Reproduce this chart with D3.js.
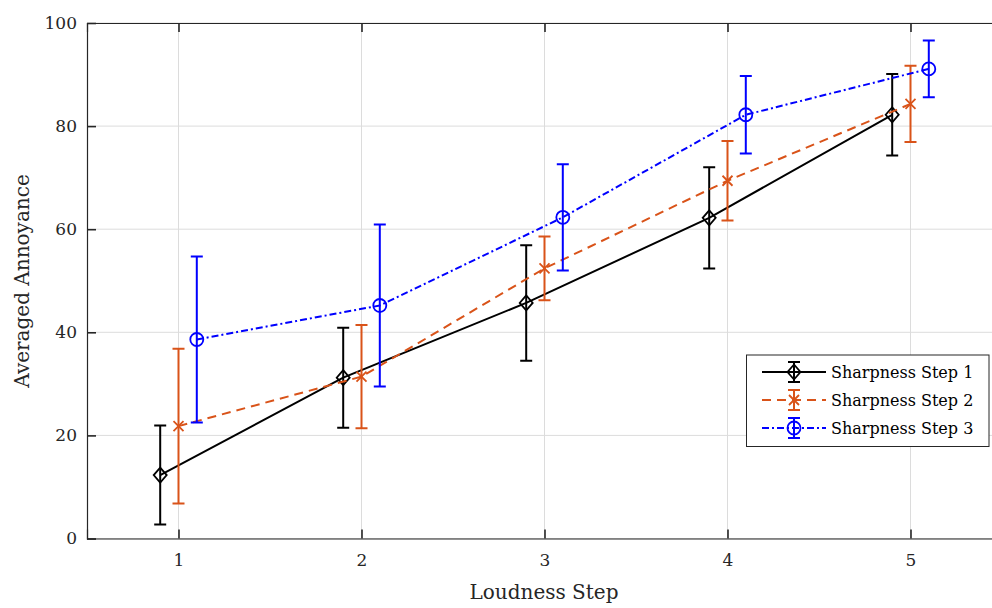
<!DOCTYPE html>
<html><head><meta charset="utf-8">
<script src="https://cdn.jsdelivr.net/npm/d3@7"></script>
<style>body{margin:0;background:#fff}svg{display:block}</style>
</head><body>
<svg id="c" width="992" height="608"></svg>
<script>
const steps = [1, 2, 3, 4, 5];
const seriesNames = ["Sharpness Step 1", "Sharpness Step 2", "Sharpness Step 3"];
const offsets = [-0.1, 0, 0.1];
const means1 = [12.3, 31.2, 45.7, 62.2, 82.2];
const errs1  = [9.6, 9.7, 11.2, 9.8, 7.9];
const means2 = [21.8, 31.4, 52.4, 69.4, 84.3];
const errs2  = [15.0, 10.0, 6.2, 7.7, 7.4];
const means3 = [38.6, 45.2, 62.3, 82.2, 91.1];
const errs3  = [16.1, 15.7, 10.3, 7.5, 5.5];
const yTicks = [0, 20, 40, 60, 80, 100];
const colors = ["#000000", "#D95319", "#0000FF"];
const dashes = [null, "9,6", "7,3,2,3"];
const markers = ["diamond", "x", "circle"];
const allMeans = [means1, means2, means3];
const allErrs = [errs1, errs2, errs3];

const svg = d3.select("#c");
const m = {l: 87, t: 23, r: 1002, b: 538.5};
const x = d3.scaleLinear().domain([0.5, 5.5]).range([m.l, m.r]);
const y = d3.scaleLinear().domain([0, 100]).range([m.b, m.t]);
const font = "'DejaVu Serif', serif";
const axisCol = "#262626";

// grid
const g = svg.append("g");
g.selectAll(".gx").data(steps).join("line")
  .attr("x1", d => x(d)).attr("x2", d => x(d)).attr("y1", m.t).attr("y2", m.b)
  .attr("stroke", "#dcdcdc").attr("stroke-width", 1);
g.selectAll(".gy").data(yTicks).join("line")
  .attr("x1", m.l).attr("x2", m.r).attr("y1", d => y(d)).attr("y2", d => y(d))
  .attr("stroke", "#dcdcdc").attr("stroke-width", 1);

// axes
const xAxis = d3.axisBottom(x).tickValues(steps).tickSize(-9).tickPadding(15).tickFormat(d3.format("d"));
const xTop = d3.axisTop(x).tickValues(steps).tickSize(-9).tickFormat("");
const yAxis = d3.axisLeft(y).tickValues(yTicks).tickSize(-9).tickPadding(10);
function style(sel){
  sel.select(".domain").attr("stroke", axisCol).attr("stroke-width", 1.2);
  sel.selectAll(".tick line").attr("stroke", axisCol).attr("stroke-width", 1.6);
  sel.selectAll("text").attr("fill", axisCol).style("font-family", font).style("font-size", "17px");
}
svg.append("g").attr("transform", `translate(0,${m.b})`).call(xAxis).call(style);
svg.append("g").attr("transform", `translate(0,${m.t})`).call(xTop).call(style);
svg.append("g").attr("transform", `translate(${m.l},0)`).call(yAxis).call(style);

svg.append("text").attr("x", 544).attr("y", 599).attr("text-anchor", "middle")
  .style("font-family", font).style("font-size", "20px").attr("fill", axisCol).text("Loudness Step");
svg.append("text").attr("transform", "translate(29,281) rotate(-90)").attr("text-anchor", "middle")
  .style("font-family", font).style("font-size", "20px").attr("fill", axisCol).text("Averaged Annoyance");

function drawMarker(sel, type, cx, cy, col){
  if (type === "diamond") {
    sel.append("path").attr("d", `M${cx},${cy-7.5}L${cx+6.5},${cy}L${cx},${cy+7.5}L${cx-6.5},${cy}Z`)
      .attr("fill", "none").attr("stroke", col).attr("stroke-width", 1.8);
  } else if (type === "circle") {
    sel.append("circle").attr("cx", cx).attr("cy", cy).attr("r", 6.5)
      .attr("fill", "none").attr("stroke", col).attr("stroke-width", 1.8);
  } else {
    sel.append("path").attr("d", `M${cx-5},${cy-5}L${cx+5},${cy+5}M${cx-5},${cy+5}L${cx+5},${cy-5}`)
      .attr("fill", "none").attr("stroke", col).attr("stroke-width", 1.8);
  }
}

const line = d3.line().x(d => x(d[0])).y(d => y(d[1]));
allMeans.forEach((means, i) => {
  const col = colors[i];
  const pts = steps.map((s, j) => [s + offsets[i], means[j], allErrs[i][j]]);
  const sg = svg.append("g");
  pts.forEach(p => {
    const cx = x(p[0]), top = y(p[1] + p[2]), bot = y(p[1] - p[2]);
    sg.append("path").attr("d", `M${cx},${top}L${cx},${bot}M${cx-6},${top}L${cx+6},${top}M${cx-6},${bot}L${cx+6},${bot}`)
      .attr("stroke", col).attr("stroke-width", 2).attr("fill", "none");
  });
  sg.append("path").datum(pts).attr("d", line).attr("fill", "none")
    .attr("stroke", col).attr("stroke-width", 2).attr("stroke-dasharray", dashes[i]);
  pts.forEach(p => drawMarker(sg, markers[i], x(p[0]), y(p[1]), col));
});

// legend
const lg = svg.append("g");
lg.append("rect").attr("x", 746.5).attr("y", 355).attr("width", 242.5).attr("height", 91.5)
  .attr("fill", "#fff").attr("stroke", axisCol).attr("stroke-width", 1);
seriesNames.forEach((name, i) => {
  const ly = 372 + i * 28, col = colors[i];
  lg.append("line").attr("x1", 762).attr("x2", 826).attr("y1", ly).attr("y2", ly)
    .attr("stroke", col).attr("stroke-width", 2).attr("stroke-dasharray", dashes[i]);
  lg.append("path").attr("d", `M794,${ly-10}L794,${ly+10}M788,${ly-10}L800,${ly-10}M788,${ly+10}L800,${ly+10}`)
    .attr("stroke", col).attr("stroke-width", 2);
  drawMarker(lg, markers[i], 794, ly, col);
  lg.append("text").attr("x", 831).attr("y", ly + 6).style("font-family", font).style("font-size", "16px")
    .attr("fill", "#000").text(name);
});
</script>
</body></html>
